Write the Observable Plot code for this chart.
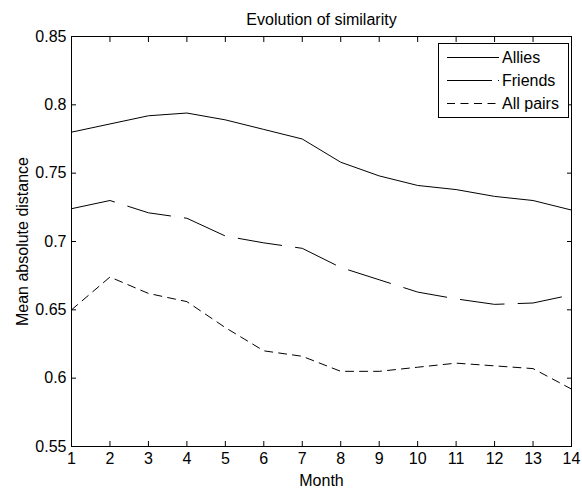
<!DOCTYPE html>
<html>
<head>
<meta charset="utf-8">
<script src="https://cdn.jsdelivr.net/npm/d3@7"></script>
<script src="https://cdn.jsdelivr.net/npm/@observablehq/plot@0.6"></script>
<style>
  html, body { margin: 0; padding: 0; background: #fff; }
  #wrap { position: relative; width: 582px; height: 488px; }
  #legend { position: absolute; left: 0; top: 0; }
</style>
</head>
<body>
<div id="wrap"></div>
<script>
const titleText = "Evolution of similarity";
const xLabel = "Month";
const yLabel = "Mean absolute distance";
const months = [1, 2, 3, 4, 5, 6, 7, 8, 9, 10, 11, 12, 13, 14];
const yTicks = [0.55, 0.6, 0.65, 0.7, 0.75, 0.8, 0.85];
const seriesNames = ["Allies", "Friends", "All pairs"];
const allies  = [0.780, 0.786, 0.792, 0.794, 0.789, 0.782, 0.775, 0.758, 0.748, 0.741, 0.738, 0.733, 0.730, 0.723];
const friends = [0.724, 0.730, 0.721, 0.717, 0.704, 0.699, 0.695, 0.681, 0.672, 0.663, 0.658, 0.654, 0.655, 0.661];
const allPairs = [0.650, 0.674, 0.662, 0.656, 0.637, 0.620, 0.616, 0.605, 0.605, 0.608, 0.611, 0.609, 0.607, 0.592];

const dashes = {"Allies": null, "Friends": "44,14", "All pairs": "8,6"};
const seriesValues = [allies, friends, allPairs];
const rows = [];
seriesNames.forEach((name, i) => months.forEach((m, j) => rows.push({series: name, month: m, value: seriesValues[i][j]})));

const font = "'Liberation Sans', Arial, Helvetica, sans-serif";
const fs = 16;
const fmt = d => String(d);

const chart = Plot.plot({
  width: 582,
  height: 488,
  marginLeft: 71,
  marginRight: 11,
  marginTop: 36,
  marginBottom: 42,
  style: {fontFamily: font, fontSize: fs + "px", background: "#fff", color: "#000"},
  x: {domain: [1, 14]},
  y: {domain: [0.55, 0.85]},
  marks: [
    Plot.axisX({anchor: "bottom", ticks: months, tickFormat: fmt, tickSize: -5, tickPadding: 11,
      label: xLabel, labelAnchor: "center", labelArrow: "none", labelOffset: 39, fontSize: fs}),
    Plot.axisX({anchor: "top", ticks: months, tickSize: -5, fill: "none", label: null}),
    Plot.axisY({anchor: "left", ticks: yTicks, tickFormat: fmt, tickSize: -5, tickPadding: 10,
      label: yLabel, labelAnchor: "center", labelArrow: "none", labelOffset: 55, fontSize: fs}),
    Plot.axisY({anchor: "right", ticks: yTicks, tickSize: -5, fill: "none", label: null}),
    ...seriesNames.map(name => Plot.line(rows.filter(r => r.series === name), {
      x: "month", y: "value", stroke: "#000", strokeWidth: 1,
      strokeDasharray: dashes[name]
    })),
    Plot.frame({stroke: "#000", strokeWidth: 1}),
    Plot.text([titleText], {text: d => d, frameAnchor: "top", dy: -17, fontSize: fs, lineAnchor: "middle"})
  ]
});
document.getElementById("wrap").appendChild(chart);

// Legend box (inside plot, top-right), drawn as overlay
const legend = d3.select("#wrap").append("svg")
  .attr("id", "legend").attr("width", 582).attr("height", 488)
  .style("font-family", font).style("font-size", fs + "px");
const lx = 438, ly = 43, lw = 130, lh = 74;
legend.append("rect").attr("x", lx + 0.5).attr("y", ly + 0.5).attr("width", lw).attr("height", lh)
  .attr("fill", "#fff").attr("stroke", "#000").attr("stroke-width", 1);
seriesNames.forEach((name, i) => {
  const yy = ly + 14.5 + i * 23;
  legend.append("line").attr("x1", lx + 9).attr("x2", lx + 61).attr("y1", yy).attr("y2", yy)
    .attr("stroke", "#000").attr("stroke-width", 1)
    .attr("stroke-dasharray", name === "All pairs" ? "8,5.5" : (name === "Friends" ? "45,6,1,6" : null));
  legend.append("text").attr("x", lx + 64).attr("y", yy).attr("dy", "0.35em").text(name);
});
</script>
</body>
</html>
